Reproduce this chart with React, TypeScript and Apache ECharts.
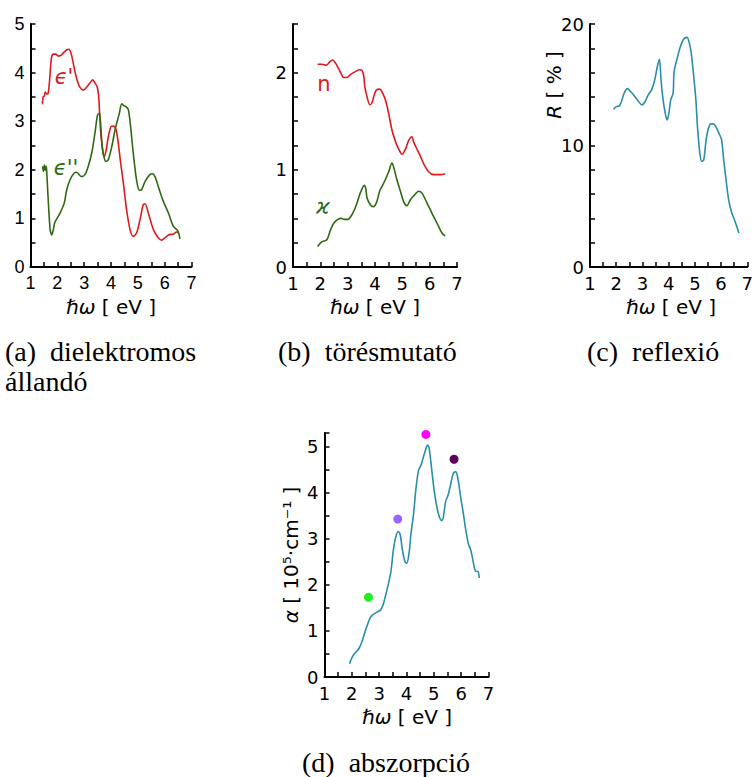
import React, { useEffect, useRef } from "react";
import * as echarts from "echarts";

// (a) dielectric constant: [photon energy eV, value]
const epsReal: [number, number][] = [
  [1.45, 3.35], [1.47, 3.5], [1.52, 3.52], [1.55, 3.6], [1.6, 3.56], [1.66, 3.58], [1.72, 3.9], [1.78, 4.3],
  [1.85, 4.38], [1.93, 4.38], [2.05, 4.34], [2.15, 4.36], [2.25, 4.42], [2.35, 4.47], [2.43, 4.48], [2.53, 4.36],
  [2.62, 4.12], [2.72, 3.88], [2.84, 3.7], [2.97, 3.64], [3.09, 3.7], [3.22, 3.79], [3.32, 3.85], [3.4, 3.79],
  [3.49, 3.7], [3.54, 3.51], [3.57, 3.23], [3.62, 2.75], [3.69, 2.41], [3.74, 2.27], [3.81, 2.38], [3.9, 2.68],
  [4.0, 2.89], [4.09, 2.9], [4.19, 2.82], [4.27, 2.55], [4.36, 2.14], [4.46, 1.73], [4.58, 1.18], [4.71, 0.77],
  [4.83, 0.63], [4.96, 0.71], [5.08, 0.97], [5.2, 1.28], [5.27, 1.3], [5.39, 1.11], [5.58, 0.77], [5.76, 0.6],
  [5.89, 0.55], [6.01, 0.6], [6.14, 0.66], [6.32, 0.68], [6.45, 0.72], [6.51, 0.7],
];
const epsImag: [number, number][] = [
  [1.45, 2.07], [1.48, 1.97], [1.52, 2.1], [1.55, 1.99], [1.58, 2.07], [1.6, 2.0], [1.66, 1.38], [1.73, 0.77],
  [1.76, 0.7], [1.79, 0.66], [1.85, 0.77], [1.91, 0.92], [2.1, 1.11], [2.26, 1.32], [2.35, 1.59], [2.47, 1.79],
  [2.62, 1.93], [2.72, 1.95], [2.9, 1.86], [3.03, 1.9], [3.15, 2.07], [3.28, 2.34], [3.4, 2.75], [3.5, 3.13],
  [3.57, 3.16], [3.62, 2.89], [3.67, 2.48], [3.72, 2.31], [3.81, 2.17], [3.9, 2.21], [4.03, 2.48], [4.15, 2.82],
  [4.31, 3.16], [4.4, 3.36], [4.48, 3.32], [4.58, 3.29], [4.65, 3.23], [4.73, 2.89], [4.83, 2.34], [4.96, 1.76],
  [5.06, 1.58], [5.14, 1.59], [5.27, 1.76], [5.45, 1.9], [5.55, 1.92], [5.64, 1.86], [5.76, 1.66], [5.95, 1.35],
  [6.14, 1.11], [6.32, 0.84], [6.45, 0.77], [6.51, 0.72], [6.57, 0.58],
];

// (b) refractive index
const refN: [number, number][] = [
  [1.9, 2.086], [2.06, 2.086], [2.22, 2.075], [2.34, 2.11], [2.45, 2.13], [2.55, 2.1], [2.67, 2.04], [2.76, 1.99],
  [2.85, 1.95], [2.98, 1.95], [3.1, 1.98], [3.28, 2.01], [3.44, 2.03], [3.53, 2.02], [3.59, 1.96], [3.63, 1.85],
  [3.71, 1.75], [3.81, 1.67], [3.89, 1.69], [3.95, 1.75], [4.05, 1.82], [4.17, 1.83], [4.26, 1.8], [4.38, 1.72],
  [4.5, 1.58], [4.62, 1.41], [4.75, 1.29], [4.87, 1.21], [4.99, 1.16], [5.11, 1.21], [5.23, 1.3], [5.35, 1.34],
  [5.41, 1.29], [5.54, 1.21], [5.66, 1.14], [5.8, 1.05], [5.96, 0.98], [6.14, 0.95], [6.39, 0.95], [6.57, 0.96],
];
const refK: [number, number][] = [
  [1.9, 0.21], [2.06, 0.26], [2.24, 0.28], [2.37, 0.38], [2.49, 0.45], [2.64, 0.49], [2.77, 0.5], [2.88, 0.49],
  [3.0, 0.49], [3.16, 0.54], [3.32, 0.64], [3.46, 0.76], [3.61, 0.84], [3.66, 0.81], [3.71, 0.71], [3.83, 0.64],
  [3.93, 0.62], [4.05, 0.66], [4.17, 0.78], [4.26, 0.83], [4.38, 0.9], [4.5, 0.98], [4.62, 1.07], [4.68, 1.03],
  [4.8, 0.9], [4.93, 0.78], [5.05, 0.67], [5.17, 0.63], [5.29, 0.69], [5.41, 0.73], [5.6, 0.78], [5.72, 0.76],
  [5.9, 0.66], [6.09, 0.55], [6.27, 0.45], [6.45, 0.35], [6.57, 0.32],
];

// (c) reflectivity [%]
const reflR: [number, number][] = [
  [1.9, 12.99], [2.0, 13.2], [2.12, 13.26], [2.22, 13.75], [2.3, 14.3], [2.43, 14.68], [2.55, 14.44], [2.71, 14.03],
  [2.86, 13.6], [2.98, 13.34], [3.1, 13.6], [3.22, 14.16], [3.35, 14.58], [3.47, 15.4], [3.57, 16.5], [3.65, 17.1],
  [3.71, 15.4], [3.78, 13.9], [3.86, 12.8], [3.94, 12.1], [4.0, 12.52], [4.08, 13.75], [4.17, 14.3], [4.21, 16.1],
  [4.33, 17.2], [4.45, 18.14], [4.57, 18.74], [4.7, 18.9], [4.82, 18.14], [4.88, 17.3], [4.97, 15.4], [5.04, 13.75],
  [5.1, 11.56], [5.19, 9.37], [5.27, 8.68], [5.34, 8.82], [5.43, 10.47], [5.52, 11.42], [5.62, 11.78], [5.7, 11.78],
  [5.8, 11.56], [5.92, 11.0], [6.02, 10.47], [6.1, 8.82], [6.19, 7.18], [6.29, 5.53], [6.41, 4.44], [6.51, 3.89],
  [6.6, 3.34], [6.68, 2.8],
];

// (d) absorption [10^5 cm^-1]
const absA: [number, number][] = [
  [1.92, 0.29], [1.96, 0.36], [2.06, 0.48], [2.18, 0.56], [2.27, 0.63], [2.36, 0.75], [2.45, 0.92], [2.55, 1.1],
  [2.65, 1.26], [2.76, 1.35], [2.92, 1.41], [3.06, 1.46], [3.16, 1.6], [3.24, 1.78], [3.33, 2.0], [3.43, 2.29],
  [3.52, 2.76], [3.61, 3.05], [3.7, 3.16], [3.77, 3.09], [3.85, 2.76], [3.94, 2.51], [4.01, 2.47], [4.1, 2.72],
  [4.16, 3.09], [4.26, 3.55], [4.34, 4.06], [4.44, 4.49], [4.53, 4.6], [4.62, 4.78], [4.71, 4.96], [4.77, 5.04],
  [4.83, 4.96], [4.91, 4.57], [5.01, 4.06], [5.11, 3.7], [5.2, 3.48], [5.29, 3.4], [5.35, 3.48], [5.43, 3.81],
  [5.52, 3.95], [5.61, 4.17], [5.71, 4.42], [5.8, 4.46], [5.88, 4.31], [5.98, 3.92], [6.08, 3.55], [6.16, 3.23],
  [6.26, 2.9], [6.35, 2.76], [6.43, 2.54], [6.5, 2.33], [6.57, 2.29], [6.62, 2.29], [6.66, 2.15],
];
const dotX = [2.61, 3.68, 4.71, 5.74];
const dotY = [1.73, 3.43, 5.27, 4.73];
const dotColors = ["#1ff01f", "#9966ff", "#ff00ff", "#5c005c"];

const captions = ["(a)\u00a0\u00a0dielektromos", "állandó", "(b)\u00a0\u00a0törésmutató", "(c)\u00a0\u00a0reflexió", "(d)\u00a0\u00a0abszorpció"];

const RED = "#e0191e";
const GREEN = "#2f6a12";
const TEAL = "#2a8ea6";
const SANS = "DejaVu Sans";

function xAxis(gridIndex: number, fontFamily: string) {
  return {
    type: "value", gridIndex, min: 1, max: 7, interval: 0.5,
    axisLine: { lineStyle: { color: "#000", width: 2 } },
    axisTick: { inside: true, length: 5, lineStyle: { color: "#000", width: 1.5 } },
    axisLabel: {
      margin: 7, color: "#000", fontSize: 18, fontFamily,
      formatter: (v: number) => (Math.abs(v - Math.round(v)) < 1e-6 ? String(Math.round(v)) : ""),
    },
    splitLine: { show: false },
  };
}
function yAxis(gridIndex: number, max: number, interval: number, labelStep: number, fontFamily: string) {
  return {
    type: "value", gridIndex, min: 0, max, interval,
    axisLine: { show: true, lineStyle: { color: "#000", width: 2 } },
    axisTick: { show: true, inside: true, length: 5, lineStyle: { color: "#000", width: 1.5 } },
    axisLabel: {
      margin: 6, color: "#000", fontSize: 18, fontFamily,
      formatter: (v: number) => {
        const r = v / labelStep;
        return Math.abs(r - Math.round(r)) < 1e-6 ? String(Math.round(v)) : "";
      },
    },
    splitLine: { show: false },
  };
}
function line(data: [number, number][], idx: number, color: string) {
  return {
    type: "line", data, xAxisIndex: idx, yAxisIndex: idx, showSymbol: false, smooth: 0.3,
    lineStyle: { color, width: 1.6 }, silent: true,
  };
}
function txt(x: number, y: number, text: string, opts: any = {}) {
  return {
    type: "text", x, y, rotation: opts.rotation || 0,
    style: {
      text, fill: opts.color || "#000", fontSize: opts.fontSize || 20,
      fontFamily: opts.fontFamily || SANS, fontStyle: opts.fontStyle || "normal",
      textAlign: opts.align || "center", textVerticalAlign: "middle", rich: opts.rich,
    },
  };
}
const richI = (size: number) => ({
  i: { fontStyle: "italic", fontSize: size, fontFamily: SANS, fill: "#000" },
  n: { fontSize: size, fontFamily: SANS, fill: "#000" },
});

export default function App() {
  const ref = useRef<HTMLDivElement>(null);
  useEffect(() => {
    const chart = echarts.init(ref.current!, null, { renderer: "svg" });
    const serif = "Liberation Serif";
    chart.setOption({
      animation: false,
      backgroundColor: "#fff",
      grid: [
        { left: 30.5, top: 24, width: 161, height: 243 },
        { left: 293, top: 24, width: 164, height: 243 },
        { left: 590, top: 24, width: 163, height: 243 },
        { left: 324.5, top: 433, width: 164, height: 244 },
      ],
      xAxis: [xAxis(0, "Liberation Sans"), xAxis(1, SANS), xAxis(2, SANS), xAxis(3, SANS)],
      yAxis: [
        yAxis(0, 5, 0.5, 1, "Liberation Sans"),
        yAxis(1, 2.5, 0.25, 1, SANS),
        yAxis(2, 20, 2, 10, SANS),
        yAxis(3, 5.3, 0.5, 1, SANS),
      ],
      series: [
        line(epsReal, 0, RED),
        line(epsImag, 0, GREEN),
        line(refN, 1, RED),
        line(refK, 1, GREEN),
        line(reflR, 2, TEAL),
        line(absA, 3, TEAL),
        {
          type: "scatter", xAxisIndex: 3, yAxisIndex: 3, symbolSize: 9, silent: true,
          data: dotX.map((x, i) => ({ value: [x, dotY[i]], itemStyle: { color: dotColors[i], opacity: 1 } })),
        },
      ],
      graphic: [
        txt(64, 77, "ϵ'", { color: RED, fontSize: 21, fontStyle: "italic" }),
        txt(66, 168, "ϵ''", { color: GREEN, fontSize: 21, fontStyle: "italic" }),
        txt(324, 84, "n", { color: RED, fontSize: 21 }),
        txt(323, 207, "ϰ", { color: GREEN, fontSize: 21, fontStyle: "italic" }),
        txt(111, 307, "{i|ℏω}{n| [ eV ]}", { rich: richI(20) }),
        txt(375, 307, "{i|ℏω}{n| [ eV ]}", { rich: richI(20) }),
        txt(671, 307, "{i|ℏω}{n| [ eV ]}", { rich: richI(20) }),
        txt(407, 717, "{i|ℏω}{n| [ eV ]}", { rich: richI(20) }),
        txt(554, 85, "{i|R}{n| [ % ]}", { rich: richI(20), rotation: Math.PI / 2 }),
        txt(291, 555, "{i|α}{n| [ 10⁵·cm⁻¹ ]}", { rich: richI(20), rotation: Math.PI / 2 }),
        txt(5, 351, captions[0], { fontFamily: serif, fontSize: 28, align: "left" }),
        txt(5, 381, captions[1], { fontFamily: serif, fontSize: 28, align: "left" }),
        txt(278, 351, captions[2], { fontFamily: serif, fontSize: 28, align: "left" }),
        txt(587, 351, captions[3], { fontFamily: serif, fontSize: 28, align: "left" }),
        txt(302, 762, captions[4], { fontFamily: serif, fontSize: 28, align: "left" }),
      ],
    });
    return () => chart.dispose();
  }, []);
  return (
    <div
      ref={ref}
      style={{ position: "absolute", left: 0, top: 0, width: 756, height: 777, background: "#fff" }}
    />
  );
}
